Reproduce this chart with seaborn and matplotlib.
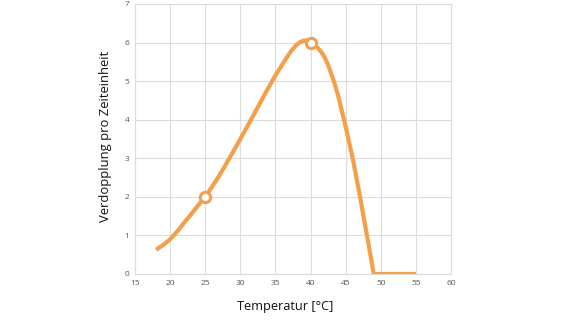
import matplotlib
matplotlib.use("Agg")
import matplotlib.pyplot as plt
import pandas as pd
import seaborn as sns

# Growth curve: doublings per unit time vs. temperature
temperature = [18, 19, 20, 21, 22, 23, 24, 25, 26, 27, 28, 29, 30, 31, 32, 33, 34,
               35, 36, 36.5, 37, 37.5, 38, 38.5, 39, 39.5, 40, 40.5, 41, 41.5, 42,
               42.5, 43, 43.5, 44, 45, 46, 47, 48, 49, 55]
doublings = [0.63, 0.75, 0.9, 1.1, 1.33, 1.55, 1.78, 2.0, 2.27, 2.55, 2.86, 3.18,
             3.5, 3.83, 4.16, 4.5, 4.83, 5.15, 5.44, 5.58, 5.72, 5.84, 5.94, 6.01,
             6.05, 6.05, 6.0, 5.95, 5.87, 5.76, 5.62, 5.42, 5.17, 4.89, 4.57, 3.82,
             3.0, 2.05, 1.03, 0.0, 0.0]

# Highlighted points
marker_temp = [25, 40]
marker_val = [2, 6]

x_ticks = [15, 20, 25, 30, 35, 40, 45, 50, 55, 60]
y_ticks = [0, 1, 2, 3, 4, 5, 6, 7]

orange = "#F4A04B"

sns.set_style("whitegrid")
plt.rcParams["font.family"] = ["Open Sans", "DejaVu Sans"]

fig = plt.figure(figsize=(5.7, 3.22), dpi=100)
ax = fig.add_axes([135 / 570, 1 - 274 / 322, 316 / 570, 270 / 322])

curve = pd.DataFrame({"Temperatur": temperature, "Verdopplung": doublings})
sns.lineplot(data=curve, x="Temperatur", y="Verdopplung", ax=ax,
             color=orange, linewidth=3, solid_joinstyle="round",
             solid_capstyle="butt", zorder=3)

points = pd.DataFrame({"Temperatur": marker_temp, "Verdopplung": marker_val})
sns.scatterplot(data=points, x="Temperatur", y="Verdopplung", ax=ax,
                s=55, facecolor="white", edgecolor=orange, linewidth=2.2,
                zorder=4, legend=False)

ax.set_xlim(15, 60)
ax.set_ylim(0, 7)
ax.set_xticks(x_ticks)
ax.set_yticks(y_ticks)
ax.tick_params(axis="both", length=0, labelsize=6, labelcolor="#555555", pad=4)

ax.grid(True, color="#dcdcdc", linewidth=0.8)
for spine in ax.spines.values():
    spine.set_color("#dcdcdc")
    spine.set_linewidth(0.8)

ax.set_xlabel("Temperatur [°C]", fontsize=9.2, color="#111111")
ax.set_ylabel("Verdopplung pro Zeiteinheit", fontsize=9.4, color="#111111")
ax.xaxis.set_label_coords(0.475, -0.098)
ax.yaxis.set_label_coords(-0.073, 0.51)

fig.savefig("out.png", dpi=100, facecolor="white")
